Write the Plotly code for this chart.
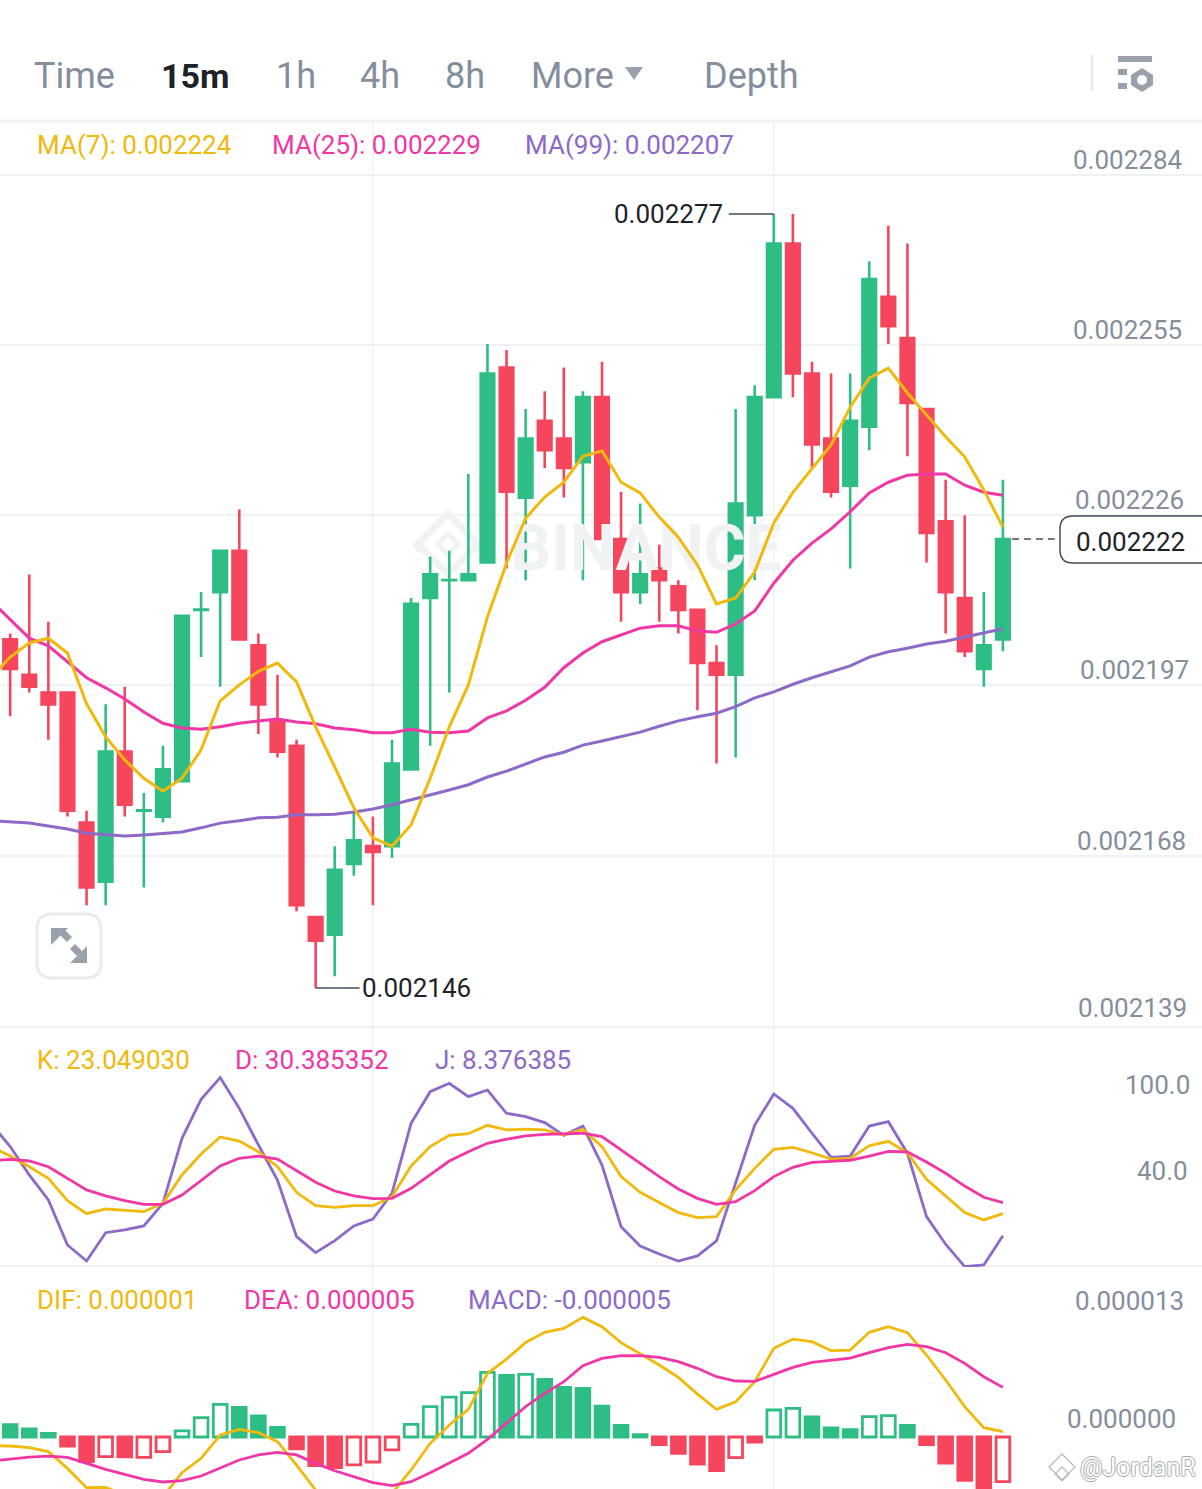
import plotly.graph_objects as go

W, H = 1202, 1489
FONT = "Roboto"
GREEN, RED = "#2EBD85", "#F6465D"
YEL, PINK, PUR = "#F0B90B", "#F037A5", "#8D69C8"
GRAY, DARK, GRID = "#848E9C", "#1E2329", "#F0F1F3"
ICON = "#9AA1AC"

# Prices in millionths
OPEN = [2205,2199,2196,2196,2174,2164,2186,2176,2175,2181,2210,2213,2220,2204,2191,2187,2158,2155,2167,2170,2170,
        2183,2212,2215,2215,2218,2251,2229,2242,2239,2235,2246,2222,2213,2217,2214,2210,2201,2199,2226,2246,2272,
        2250,2239,2231,2241,2263,2256,2244,2225,2212,2200,2205]
CLOSE = [2200,2197,2194,2176,2163,2186,2177,2176.05,2183,2209,2210.05,2220,2205,2194,2186,2160,2154,2166,2171,2169,2184,
         2211,2216,2215.05,2216,2250,2230,2239,2237,2234,2246,2222,2213,2216,2215,2210,2201,2199,2228,2246,2272,2250,
         2238,2230,2242,2266,2258,2245,2223,2213,2203,2204,2222]
HIGH = [2206,2216,2208,2196,2176,2194,2197,2179,2187,2209,2213,2220,2227,2206,2199,2188,2158,2170,2176,2175,2188,
        2212,2219,2220,2233,2255,2254,2244,2247,2251,2247,2252,2230,2228,2221,2215,2210,2204,2244,2248,2277,2277,
        2252,2250,2250,2269,2275,2272,2244,2232,2226,2213,2232]
LOW = [2192,2196,2188,2175,2160,2160,2175,2163,2174,2181,2202,2197,2205,2189,2185,2159,2146,2148,2165,2160,2168,
       2183,2187,2196,2215,2218,2217,2215,2234,2229,2215,2222,2208,2211,2208,2206,2193,2184,2185,2215,2246,2246,
       2234,2229,2217,2237,2255,2236,2218,2206,2202,2197,2203]
MA7 = [2198.5,2202.0,2204.4,2205.2,2202.7,2194.1,2188.5,2184.6,2181.5,2179.3,2181.5,2186.3,2194.6,2197.3,2199.6,2201.0,
       2197.8,2190.2,2183.4,2176.5,2171.4,2170.0,2173.6,2181.5,2190.2,2197.3,2208.8,2217.9,2225.5,2229.1,2231.6,2236.0,
       2236.9,2231.6,2229.8,2225.7,2222.3,2217.6,2211.0,2212.0,2216.4,2224.7,2229.9,2234.0,2237.9,2244.3,2249.2,2250.9,
       2246.7,2243.0,2239.3,2235.9,2230.3,2224.0]
MA25 = [2211.5,2208.3,2205.2,2203.9,2201.2,2198.5,2196.8,2194.9,2192.7,2190.8,2190.0,2189.8,2190.2,2190.8,2191.2,2191.5,
        2191.0,2190.7,2190.0,2189.7,2189.2,2189.2,2189.8,2189.3,2189.2,2189.5,2191.7,2192.9,2194.7,2196.9,2200.2,2202.7,
        2204.6,2205.7,2206.9,2207.3,2207.3,2206.4,2206.2,2207.6,2209.8,2214.5,2218.4,2221.3,2223.7,2226.6,2229.8,2231.6,
        2232.8,2233.0,2233.0,2231.1,2229.9,2229.4]
MA99 = [2174.3,2174.1,2173.9,2173.4,2172.9,2172.2,2171.9,2171.7,2171.9,2172.1,2172.4,2173.1,2173.9,2174.3,2174.8,2174.9,
        2175.3,2175.3,2175.4,2175.8,2176.3,2177.0,2177.8,2178.7,2179.5,2180.4,2181.7,2182.7,2183.9,2185.1,2185.9,2187.1,
        2187.8,2188.5,2189.3,2190.3,2191.2,2191.9,2192.5,2193.6,2195.1,2196.1,2197.4,2198.5,2199.5,2200.5,2202.0,2202.9,
        2203.5,2204.2,2204.7,2205.4,2206.1,2206.8]
K = [67.8,61.5,54.4,46.6,31.8,23.1,26.2,25.1,24.4,30.0,48.9,62.9,74.2,71.5,64.4,54.4,37.3,28.4,27.3,28.4,28.4,34.4,54.9,
     67.8,75.3,76.4,82.0,78.9,79.5,78.9,75.5,79.3,67.8,47.8,37.3,30.6,23.8,20.4,21.1,38.9,53.3,66.0,67.3,63.7,59.5,60.0,
     68.4,71.3,63.7,46.0,34.9,23.8,18.9,23.1]
D = [58.4,59.3,58.2,54.4,46.6,38.9,34.9,31.8,29.3,29.3,35.5,44.9,54.9,60.0,61.5,59.5,51.8,44.0,38.2,34.9,33.1,33.3,40.0,
     49.3,58.2,64.4,70.0,72.7,74.9,76.0,76.4,76.7,74.4,65.5,56.7,47.8,39.5,33.3,29.3,31.1,38.4,47.8,54.0,57.3,58.0,58.7,
     61.5,64.6,64.2,57.5,50.0,41.5,34.0,30.4]
J = [83.3,67.8,48.9,32.2,2.2,-8.5,10.4,12.2,14.9,30.0,73.3,99.3,113.8,93.3,68.9,45.5,7.8,-2.9,5.1,14.9,19.5,36.7,83.3,
     104.4,110.0,101.1,105.5,90.0,87.8,83.8,75.3,81.5,55.5,14.4,1.5,-3.8,-8.5,-5.1,4.9,43.3,82.2,102.9,93.3,76.7,60.6,
     61.5,81.5,84.4,63.3,21.1,2.7,-12.2,-11.1,8.4]
# MACD values in millionths
DIF = [-0.97,-1.0,-1.19,-1.63,-3.49,-5.63,-5.6,-6.45,-7.75,-6.63,-3.97,-2.37,0.22,0.85,0.48,-0.52,-3.12,-5.89,-7.75,-9.23,
       -8.86,-6.26,-3.67,-0.71,1.33,3.07,7.07,8.66,10.51,11.63,12.07,13.29,12.25,10.48,9.22,8.0,6.63,4.77,3.07,3.92,6.14,
       9.85,10.88,10.59,9.59,9.66,11.63,12.25,11.59,9.11,6.33,3.37,1.03,0.59]
DEA = [-2.67,-2.45,-2.23,-2.12,-2.26,-2.93,-3.6,-4.15,-4.71,-5.0,-4.86,-4.34,-3.49,-2.56,-2.0,-1.71,-2.0,-2.93,-3.75,-4.41,
       -5.08,-5.41,-4.97,-3.97,-2.93,-1.82,-0.26,1.51,3.37,4.85,6.14,7.92,8.74,9.03,9.03,8.85,8.37,7.63,6.7,6.22,6.18,6.96,
       7.74,8.29,8.55,8.77,9.37,9.92,10.29,10.03,9.37,8.18,6.7,5.51]
MACD = [1.37,0.89,0.41,-1.0,-2.74,-2.19,-2.22,-2.26,-1.63,0.67,2.15,3.63,3.30,2.33,1.07,-1.33,-3.19,-3.41,-3.11,-2.78,-1.44,
        1.41,3.37,4.44,4.93,7.19,6.85,6.96,6.41,5.52,5.41,3.44,1.30,0.26,-0.85,-1.81,-3.0,-3.74,-2.30,-0.56,3.0,3.19,2.22,
        1.0,0.81,2.26,2.37,1.30,-0.85,-2.89,-4.81,-5.70,-4.96]
HOLLOW = [5,7,8,9,10,11,18,19,20,21,22,23,24,25,27,38,40,41,45,46,52]

PRICE_GRID = [2283.6,2254.8,2226.0,2197.3,2168.4,2139.4]
PRICE_LABELS = ["0.002284","0.002255","0.002226","0.002197","0.002168","0.002139"]
KDJ_LABELS = ["100.0","40.0"]
MACD_LABELS = ["0.000013","0.000000"]

INDEX = list(range(len(OPEN)))
MA_X = list(range(-1, len(OPEN)))
E6 = 1e-6
def scale(a): return [v * E6 for v in a]

def px(x): return x / W
def py(y): return 1 - y / H
def dom(top, bot): return [py(bot), py(top)]

def note(text, x, y, color=GRAY, size=26, bold=False, anchor="left", **kw):
    f = dict(family=FONT, size=size, color=color, weight=700 if bold else 400)
    f.update(kw.pop("font_extra", {}))
    return dict(text=text, xref="paper", yref="paper", x=px(x - 2.5), y=py(y), xanchor=anchor, yanchor="middle",
                showarrow=False, font=f, **kw)

def poly(pts, fill, line=None, width=0, layer="above", close=True):
    d = "M " + " L ".join(f"{px(a):.5f},{py(b):.5f}" for a, b in pts) + (" Z" if close else "")
    return dict(type="path", xref="paper", yref="paper", path=d, fillcolor=fill if close else None,
                line=dict(color=line or fill, width=width), layer=layer)

def rrect(x0, y0, x1, y1, r, fill, line, width):
    c = r
    def P(a, b): return f"{px(a):.5f},{py(b):.5f}"
    d = (f"M {P(x0+c,y0)} L {P(x1-c,y0)} Q {P(x1,y0)} {P(x1,y0+c)} L {P(x1,y1-c)} Q {P(x1,y1)} {P(x1-c,y1)} "
         f"L {P(x0+c,y1)} Q {P(x0,y1)} {P(x0,y1-c)} L {P(x0,y0+c)} Q {P(x0,y0)} {P(x0+c,y0)} Z")
    return dict(type="path", xref="paper", yref="paper", path=d, fillcolor=fill, line=dict(color=line, width=width), layer="above")

def hline(y, width=1.5, color=GRID):
    return dict(type="line", xref="paper", yref="paper", x0=0, x1=1, y0=py(y), y1=py(y), line=dict(color=color, width=width), layer="below")

fig = go.Figure()

# watermark word below the marks
fig.add_trace(go.Scatter(x=[33.3], y=[2219.4 * E6], mode="text", text=["BINANCE"], hoverinfo="skip", showlegend=False,
                         textfont=dict(family=FONT, size=64, color="#F1F2F4", weight=700), xaxis="x", yaxis="y"))

fig.add_trace(go.Candlestick(x=INDEX, open=scale(OPEN), high=scale(HIGH), low=scale(LOW), close=scale(CLOSE),
                             increasing=dict(line=dict(color=GREEN, width=2.6), fillcolor=GREEN),
                             decreasing=dict(line=dict(color=RED, width=2.6), fillcolor=RED),
                             whiskerwidth=0, showlegend=False, hoverinfo="skip", xaxis="x", yaxis="y"))
for vals, col in [(MA99, PUR), (MA25, PINK), (MA7, YEL)]:
    fig.add_trace(go.Scatter(x=MA_X, y=scale(vals), mode="lines", line=dict(color=col, width=3), showlegend=False,
                             hoverinfo="skip", xaxis="x", yaxis="y"))
for vals, col in [(J, PUR), (K, YEL), (D, PINK)]:
    fig.add_trace(go.Scatter(x=MA_X, y=vals, mode="lines", line=dict(color=col, width=2.8), showlegend=False,
                             hoverinfo="skip", xaxis="x", yaxis="y2"))
fills, lines = [], []
for i, v in enumerate(MACD):
    c = GREEN if v >= 0 else RED
    lines.append(c)
    fills.append("#FFFFFF" if i in HOLLOW else c)
fig.add_trace(go.Bar(x=INDEX, y=scale(MACD), width=0.72, marker=dict(color=fills, line=dict(color=lines, width=2.8)),
                     showlegend=False, hoverinfo="skip", xaxis="x", yaxis="y3"))
for vals, col in [(DIF, YEL), (DEA, PINK)]:
    fig.add_trace(go.Scatter(x=MA_X, y=scale(vals), mode="lines", line=dict(color=col, width=2.8), showlegend=False,
                             hoverinfo="skip", xaxis="x", yaxis="y3"))

ann = []
for txt, x, y, col, b, s in [("Time",34,76,GRAY,False,36),("15m",161,76,DARK,True,34),("1h",276,76,GRAY,False,36),("4h",360,76,GRAY,False,36),
                             ("8h",445,76,GRAY,False,36),("More",531,76,GRAY,False,36),("Depth",704,76,GRAY,False,36)]:
    ann.append(note(txt, x, y, col, s, b))
for txt, x, col in [("MA(7): 0.002224",37,YEL),("MA(25): 0.002229",272,PINK),("MA(99): 0.002207",525,PUR)]:
    ann.append(note(txt, x, 145, col))
for txt, x, col in [("K: 23.049030",37,YEL),("D: 30.385352",235,PINK),("J: 8.376385",435,PUR)]:
    ann.append(note(txt, x, 1060, col))
for txt, x, col in [("DIF: 0.000001",37,YEL),("DEA: 0.000005",244,PINK),("MACD: -0.000005",468,PUR)]:
    ann.append(note(txt, x, 1300, col))
for txt, x, y in zip(PRICE_LABELS, [1073,1073,1075,1080,1077,1078], [160,330,500,670,841,1008]):
    ann.append(note(txt, x, y))
for txt, x, y in zip(KDJ_LABELS, [1125,1137], [1085,1171]):
    ann.append(note(txt, x, y))
for txt, x, y in zip(MACD_LABELS, [1075,1067], [1301,1419]):
    ann.append(note(txt, x, y))
ann.append(note("0.002277", 614, 214, DARK))
ann.append(note("0.002146", 362, 988, DARK))
ann.append(note("0.002222", 1076, 542, DARK))
ann.append(note("@JordanR", 1080, 1467, "#FFFFFF", 25, font_extra=dict(shadow="-1px 0 #A8ABB0,1px 0 #A8ABB0,0 -1px #A8ABB0,0 1px #A8ABB0")))

shapes = [hline(121, 3), hline(1027, 2), hline(1266, 2)]
for i in (19, 40):
    shapes.append(dict(type="line", xref="x", yref="paper", x0=i, x1=i, y0=0, y1=py(121), line=dict(color=GRID, width=1.5), layer="below"))
# high / low leaders and last price
shapes.append(dict(type="line", xref="x", yref="y", x0=37.64, x1=40, y0=2277*E6, y1=2277*E6, line=dict(color="#474D57", width=1.6)))
shapes.append(dict(type="line", xref="x", yref="y", x0=16, x1=18.3, y0=2146*E6, y1=2146*E6, line=dict(color="#474D57", width=1.6)))
shapes.append(dict(type="line", xref="x", yref="y", x0=52.48, x1=54.72, y0=2222*E6, y1=2222*E6, line=dict(color="#474D57", width=1.5, dash="7px,5px")))
shapes.append(rrect(1060, 516, 1216, 563, 13, "#FFFFFF", "#474D57", 1.5))
# More triangle
shapes.append(poly([(625,67),(643,67),(634,80)], ICON))
# settings icon
shapes.append(poly([(1092,55),(1092,91)], "#EAECEF", "#EAECEF", 3, close=False))
shapes.append(poly([(1118,56),(1152,56),(1152,62),(1118,62)], ICON))
shapes.append(poly([(1118,69),(1127,69),(1127,75),(1118,75)], ICON))
shapes.append(poly([(1118,83),(1127,83),(1127,89),(1118,89)], ICON))
shapes.append(poly([(1142,68),(1153,75),(1153,85),(1142,92),(1131,85),(1131,75)], ICON))
shapes.append(dict(type="circle", xref="paper", yref="paper", x0=px(1137), x1=px(1147), y0=py(85), y1=py(75), fillcolor="#FFFFFF", line=dict(width=0)))
# expand button
shapes.append(rrect(37, 914, 101, 978, 15, "#FFFFFF", "#EAECEF", 3))
shapes.append(poly([(51,928),(68,928),(51,945)], ICON))
shapes.append(poly([(60,935),(65,930),(72,937),(67,942)], ICON))
shapes.append(poly([(87,946),(87,963),(70,963)], ICON))
shapes.append(poly([(70,949),(75,944),(82,951),(77,956)], ICON))
# watermark logo
WM = "#F1F2F4"
def diamond(cx, cy, r, fill=WM): return poly([(cx,cy-r),(cx+r,cy),(cx,cy+r),(cx-r,cy)], fill, layer="below")
shapes += [diamond(448,544,35), diamond(448,544,25,"#FFFFFF"), diamond(448,544,14), diamond(448,544,7,"#FFFFFF"),
           diamond(418,546,6), diamond(478,546,6)]
# small author mark
for cx, cy, r in [(1062,1467,13),(1062,1474,7)]:
    shapes.append(poly([(cx,cy-r),(cx+r,cy),(cx,cy+r),(cx-r,cy),(cx,cy-r)], "#FFFFFF", "#B5B8BD", 1.2, close=False))

fig.update_layout(
    width=W, height=H, autosize=False, margin=dict(l=0, r=0, t=0, b=0), paper_bgcolor="#FFFFFF", plot_bgcolor="#FFFFFF",
    showlegend=False, boxgap=0.29, boxgroupgap=0, bargap=0.1, annotations=ann, shapes=shapes, hovermode=False,
    xaxis=dict(domain=[0, 1], range=[-0.534, 62.43], visible=False, rangeslider=dict(visible=False), anchor="y3", fixedrange=True),
    yaxis=dict(domain=dom(121, 1027), range=[2139.39*E6, 2292.74*E6], tickvals=scale(PRICE_GRID), showticklabels=False,
               showgrid=True, gridcolor=GRID, gridwidth=1.5, zeroline=False, showline=False, ticks="", fixedrange=True),
    yaxis2=dict(domain=dom(1027, 1267), range=[-12.47, 147.53], showgrid=False, zeroline=False, showticklabels=False, ticks="", fixedrange=True),
    yaxis3=dict(domain=dom(1267, 1489), range=[-5.78*E6, 18.89*E6], showgrid=False, zeroline=False, showticklabels=False, ticks="", fixedrange=True),
)
fig.write_html("out.html", config=dict(displayModeBar=False),
               post_script="document.body.style.margin='0';document.documentElement.style.overflow='hidden';")
